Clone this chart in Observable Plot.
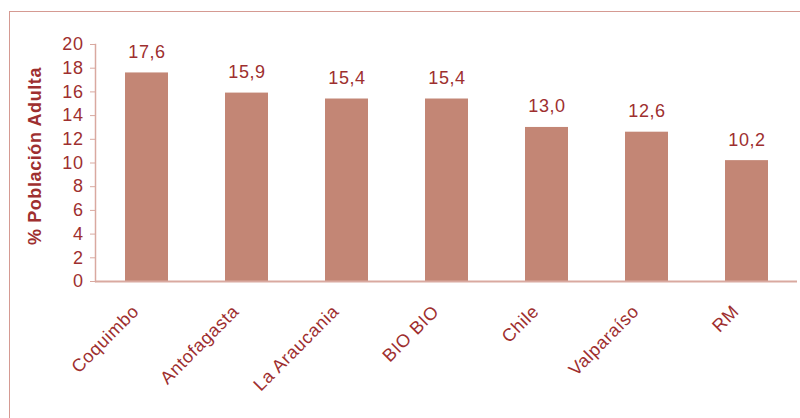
<!DOCTYPE html>
<html>
<head>
<meta charset="utf-8">
<script src="https://cdn.jsdelivr.net/npm/d3@7"></script>
<script src="https://cdn.jsdelivr.net/npm/@observablehq/plot@0.6"></script>
<style>
  html, body { margin: 0; padding: 0; background: #fff; overflow: hidden; }
  #wrap { position: relative; width: 800px; height: 418px; }
  #frame { position: absolute; left: 9px; top: 11px; width: 900px; height: 600px;
           border: 1px solid #D59A92; box-sizing: border-box; pointer-events: none; }
  #chart { position: absolute; left: 0; top: 0; }
  #chart svg text { letter-spacing: 0.6px; }
</style>
</head>
<body>
<div id="wrap"><div id="frame"></div><div id="chart"></div></div>
<script>
const regions = ["Coquimbo", "Antofagasta", "La Araucania", "BIO BIO", "Chile", "Valparaíso", "RM"];
const values = [17.6, 15.9, 15.4, 15.4, 13.0, 12.6, 10.2];
const yTicks = [0, 2, 4, 6, 8, 10, 12, 14, 16, 18, 20];
const yLabel = "% Población Adulta";

const data = regions.map((r, i) => ({region: r, value: values[i]}));
const textColor = "#9E2F2F";
const barColor = "#C38675";
const lineColor = "#D9A9A0";
const fmt = v => v.toFixed(1).replace(".", ",");

const chart = Plot.plot({
  width: 800,
  height: 418,
  marginLeft: 95,
  marginRight: 3,
  marginTop: 44,
  marginBottom: 137,
  style: {fontFamily: "'Liberation Sans', Arial, sans-serif", fontSize: "18px", color: textColor, background: "transparent"},
  x: {domain: regions, paddingInner: 0.57, paddingOuter: 0.285, label: null},
  y: {domain: [0, 20], label: null},
  marks: [
    Plot.barY(data, {x: "region", y: "value", fill: barColor}),
    Plot.text(data, {x: "region", y: "value", text: d => fmt(d.value), lineAnchor: "bottom", dy: -15,
      fill: textColor, fontSize: 18}),
    Plot.frame({anchor: "left", stroke: lineColor, strokeWidth: 1.5}),
    Plot.ruleY([0], {stroke: lineColor, strokeWidth: 2}),
    Plot.axisY({ticks: yTicks, tickSize: 5, tickPadding: 7, stroke: lineColor, fill: textColor,
      fontSize: 18, label: null, tickFormat: d => String(d)}),
    Plot.axisX({tickSize: 0, tickRotate: -45, tickPadding: 27, dx: -11, fill: textColor, fontSize: 18, label: null}),
    Plot.text([yLabel], {frameAnchor: "left", dx: -60, dy: -7, rotate: -90, text: d => d, fill: textColor,
      fontWeight: "bold", fontSize: 18, textAnchor: "middle", lineAnchor: "middle", style: "letter-spacing: 1.6px"})
  ]
});
document.getElementById("chart").appendChild(chart);
</script>
</body>
</html>
